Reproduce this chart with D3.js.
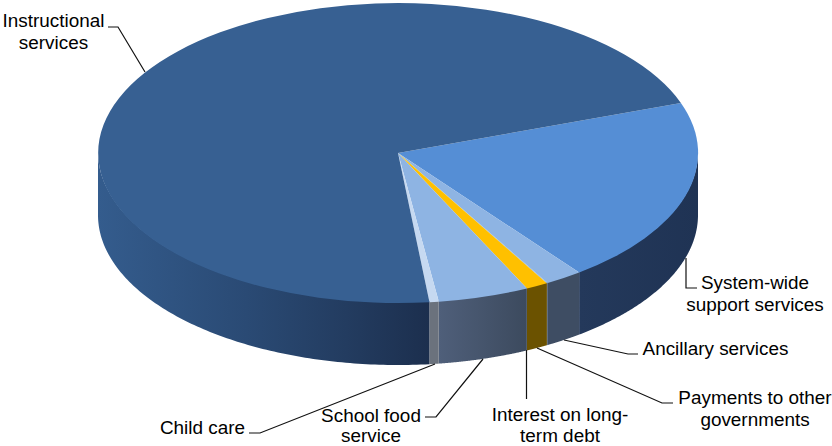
<!DOCTYPE html>
<html>
<head>
<meta charset="utf-8">
<script src="https://cdnjs.cloudflare.com/ajax/libs/d3/7.8.5/d3.min.js"></script>
<style>
html,body{margin:0;padding:0;background:#fff}
svg{display:block}
text{font-family:"Liberation Sans",Arial,sans-serif;font-size:18.9px;fill:#000}
</style>
</head>
<body>
<svg id="c" width="832" height="446"></svg>
<script>
// Data (share of spending, percent), clockwise from the upper right
const categories = ["System-wide support services","Ancillary services","Payments to other governments","Interest on long-term debt","School food service","Child care","Instructional services"];
const values = [20.1, 2.0, 0.05, 1.2, 4.9, 0.5, 71.25];

// Styles
const topColors = ["#558ed5","#8eb4e3","#8eb4e3","#ffc000","#8eb4e3","#c6d9f1","#376092"];
const sideStops = [
  [["#1f3354",0],["#24395b",1]],
  [["#3e4d63",0],["#3e4d63",1]],
  [["#3e4d63",0],["#3e4d63",1]],
  [["#6b5200",0],["#6b5200",1]],
  [["#3c4a5e",0],["#4f5f7a",1]],
  [["#6b727d",0],["#6b727d",1]],
  [["#1c2f4e",0],["#233c60",0.25],["#2a4a74",0.55],["#345c8d",1]]
];

// Layout
const cx = 398, cy = 153, rx = 300, ry = 150, depth = 62;
const startDeg = 70.5;
const labelLayout = [
  {lines:["System-wide","support services"], x:755, y:[289,311], leader:[[686,258],[686,288],[697,288]]},
  {lines:["Ancillary services"], x:715.5, y:[355], leader:[[564,340],[628,354],[638,354]]},
  {lines:["Payments to other","governments"], x:755, y:[404,426], leader:[[537,348],[662,403],[673,403]]},
  {lines:["Interest on long-","term debt"], x:560, y:[421,442], leader:[[526.5,350],[526.5,399]]},
  {lines:["School food","service"], x:371, y:[422,442], leader:[[483,359],[436,417],[425,417]]},
  {lines:["Child care"], x:202.5, y:[434], leader:[[435,364],[260,433],[249,433]]},
  {lines:["Instructional","services"], x:53.5, y:[27,49], leader:[[145,72],[118,27],[108,27]]}
];

const svg = d3.select("#c");
const defs = svg.append("defs");

const pie = d3.pie().sort(null)
  .startAngle(startDeg*Math.PI/180)
  .endAngle((startDeg+360)*Math.PI/180);
const slices = pie(values);

const xScale = d3.scaleLinear().domain([-1,1]).range([cx-rx,cx+rx]);
const yScale = d3.scaleLinear().domain([-1,1]).range([cy-ry,cy+ry]);
// d3 pie angle: 0 at 12 o'clock, clockwise
const px = a => xScale(Math.sin(a));
const py = a => yScale(-Math.cos(a));
const line = d3.line().x(d=>d[0]).y(d=>d[1]);

// Visible side wall: the part of each slice in the front half of the ellipse
function frontRange(s){
  const lo = Math.PI/2, hi = 3*Math.PI/2;
  const a0 = Math.max(s.startAngle, lo), a1 = Math.min(s.endAngle, hi);
  return a1 > a0 ? [a0,a1] : null;
}
const walls = svg.append("g");
slices.forEach((s,i)=>{
  const r = frontRange(s);
  if(!r) return;
  const n = 120;
  const angs = d3.range(n+1).map(k=>r[0]+(r[1]-r[0])*k/n);
  // the upper edge tucks 1px under the top face so no light seam shows
  const topEdge = angs.map(a=>[px(a),py(a)-1]);
  const botEdge = angs.slice().reverse().map(a=>[px(a),py(a)+depth]);
  const xs = topEdge.map(p=>p[0]);
  const gid = "side"+i;
  const g = defs.append("linearGradient").attr("id",gid)
    .attr("gradientUnits","userSpaceOnUse")
    .attr("x1",d3.max(xs)).attr("x2",d3.min(xs)).attr("y1",0).attr("y2",0);
  sideStops[i].forEach(st=>g.append("stop").attr("offset",st[1]).attr("stop-color",st[0]));
  walls.append("path")
    .attr("d",line(topEdge.concat(botEdge))+"Z")
    .attr("fill","url(#"+gid+")");
});

const arc = d3.arc().innerRadius(0).outerRadius(1);
svg.append("g").attr("transform",`translate(${cx},${cy}) scale(${rx},${ry})`)
  .selectAll("path").data(slices).join("path")
  .attr("d",arc)
  .attr("fill",(d,i)=>topColors[i]);

const labels = svg.append("g");
labelLayout.forEach(l=>{
  labels.append("path").attr("d",line(l.leader))
    .attr("fill","none").attr("stroke","#111").attr("stroke-width",1.2);
  l.lines.forEach((t,k)=>labels.append("text")
    .attr("x",l.x).attr("y",l.y[k]).attr("text-anchor","middle").text(t));
});
</script>
</body>
</html>
